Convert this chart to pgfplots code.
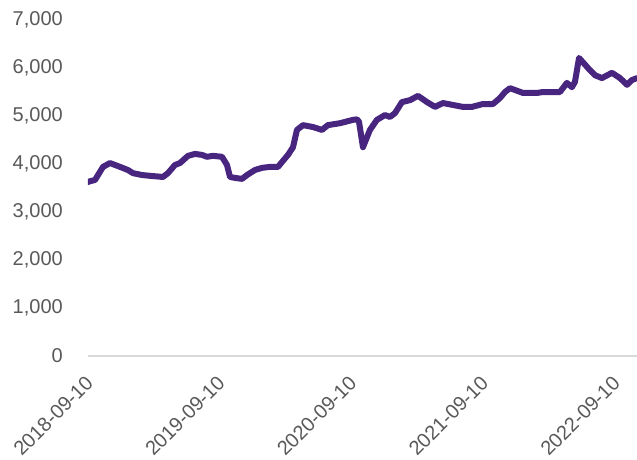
\documentclass[border=0pt]{standalone}
\usepackage{fontspec}
\setmainfont{Liberation Sans}
\usepackage{pgfplots}
\pgfplotsset{compat=1.18}
\definecolor{linepurple}{RGB}{72,38,128}
\definecolor{tickgray}{RGB}{89,89,89}
\definecolor{axisgray}{RGB}{217,217,217}
\begin{document}
\begin{tikzpicture}
\useasboundingbox (0,0) rectangle (637pt,459pt);
\begin{axis}[
  at={(88pt,103pt)}, anchor=south west,
  scale only axis, width=549pt, height=336pt,
  xmin=-0.015, xmax=4.152, ymin=0, ymax=7000,
  axis lines=left,
  axis line style={-},
  x axis line style={draw=axisgray, line width=1.3pt},
  y axis line style={draw=none},
  major tick length=0pt,
  xtick={0,1,2,3,4},
  xticklabels={2018-09-10,2019-09-10,2020-09-10,2021-09-10,2022-09-10},
  ytick={0,1000,...,7000},
  /pgf/number format/1000 sep={,},
  /pgf/number format/assume math mode=true,
  ticklabel style={font=\fontsize{20}{24}\selectfont, text=tickgray},
  yticklabel style={anchor=east, inner sep=0pt, xshift=-25pt},
  xticklabel style={rotate=45, anchor=north east, inner sep=0pt, yshift=-9pt, xshift=-17pt},
]
\addplot[color=linepurple, line width=6pt, line join=round, line cap=round] coordinates {
(-0.015,3625) (0,3640) (0.038,3667) (0.099,3940) (0.152,4020) (0.228,3940)
(0.288,3875) (0.326,3810) (0.395,3770) (0.471,3750) (0.554,3730) (0.592,3810)
(0.645,3980) (0.683,4020) (0.744,4170) (0.797,4210) (0.850,4190) (0.888,4150)
(0.934,4170) (1.002,4150) (1.040,3980) (1.063,3730) (1.101,3710) (1.154,3690)
(1.192,3770) (1.252,3875) (1.306,3920) (1.366,3940) (1.427,3940) (1.457,4040)
(1.503,4190) (1.541,4350) (1.571,4710) (1.617,4810) (1.693,4770) (1.761,4710)
(1.806,4810) (1.898,4850) (1.996,4920) (2.027,4930) (2.042,4880) (2.072,4350)
(2.125,4710) (2.178,4920) (2.239,5020) (2.277,4980) (2.315,5060) (2.368,5290)
(2.429,5330) (2.490,5420) (2.558,5290) (2.619,5190) (2.679,5270) (2.755,5230)
(2.831,5190) (2.899,5190) (2.983,5250) (3.059,5250) (3.112,5375) (3.150,5500)
(3.188,5580) (3.287,5480) (3.393,5480) (3.438,5500) (3.567,5500) (3.620,5690)
(3.658,5600) (3.681,5710) (3.712,6210) (3.780,6000) (3.833,5850) (3.886,5790)
(3.962,5900) (4.023,5790) (4.076,5650) (4.114,5750) (4.152,5790)
};
\end{axis}
\end{tikzpicture}
\end{document}
